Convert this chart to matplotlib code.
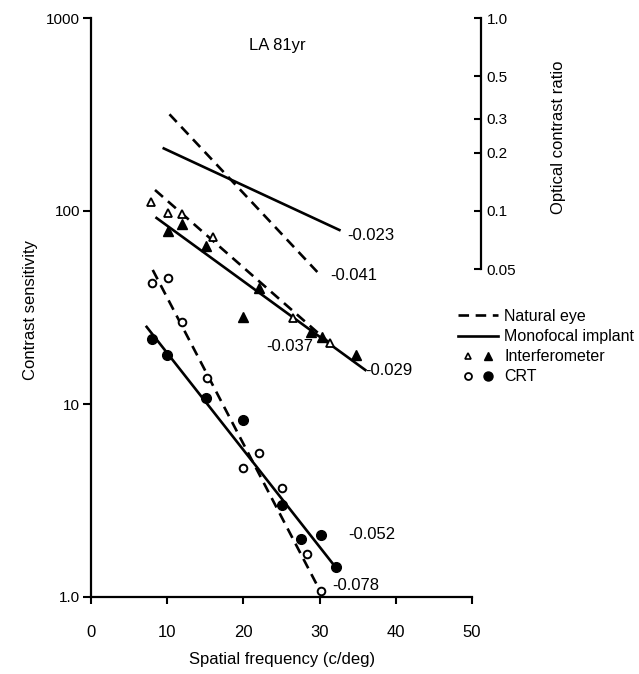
import matplotlib.pyplot as plt
from matplotlib.lines import Line2D
from matplotlib.legend_handler import HandlerTuple
from matplotlib.ticker import NullLocator

plt.rcParams['font.family'] = ['Liberation Sans', 'DejaVu Sans']

# interferometer gratings, natural eye (open) and monofocal implant (filled)
int_nat_x = [7.9, 10.1, 11.95, 16.0, 26.5, 31.3]
int_nat_y = [112, 98, 96, 73, 27.8, 20.6]
int_mono_x = [10.1, 11.95, 15.1, 20.0, 22.1, 28.9, 30.3, 34.8]
int_mono_y = [78.8, 86, 65.9, 28.3, 39.7, 23.7, 22.3, 17.9]

# CRT gratings
crt_nat_x = [8.0, 10.1, 12.0, 15.2, 19.9, 22.1, 25.0, 28.4, 30.2]
crt_nat_y = [42.5, 44.8, 26.7, 13.6, 4.66, 5.57, 3.67, 1.67, 1.07]
crt_mono_x = [7.95, 9.95, 15.05, 20.0, 25.0, 27.6, 30.2, 32.2]
crt_mono_y = [21.7, 17.9, 10.7, 8.26, 3.0, 2.0, 2.1, 1.43]

# fitted lines: end points in (c/deg, sensitivity)
fit_x = [[10.3, 29.7], [9.55, 32.6], [8.4, 31.3], [8.6, 36.0], [8.1, 30.2], [7.3, 32.2]]
fit_y = [[317, 48.3], [211, 79.7], [128.5, 20.7], [92, 15.0], [49.5, 1.05], [25.1, 1.41]]
fit_natural = [True, False, True, False, True, False]
slopes = ["-0.041", "-0.023", "-0.037", "-0.029", "-0.078", "-0.052"]
slope_pos = [(31.4, 46.6), (33.6, 75.1), (23.0, 19.8), (36.0, 15.0), (31.6, 1.15), (33.8, 2.1)]

ratio_ticks = [0.05, 0.1, 0.2, 0.3, 0.5, 1.0]

fig = plt.figure(figsize=(6.39, 6.74), dpi=100)
ax = fig.add_axes([91 / 639, 1 - 597 / 674, 381 / 639, 579 / 674])

dash = (4, 2.5)
lw = 1.9
for xs, ys, nat in zip(fit_x, fit_y, fit_natural):
    if nat:
        ax.plot(xs, ys, color='k', lw=lw, ls='--', dashes=dash)
    else:
        ax.plot(xs, ys, color='k', lw=lw)

ax.plot(int_nat_x, int_nat_y, ls='none', marker='^', ms=5.5, mfc='white', mec='k', mew=1.3)
ax.plot(int_mono_x, int_mono_y, ls='none', marker='^', ms=7, mfc='k', mec='k')
ax.plot(crt_nat_x, crt_nat_y, ls='none', marker='o', ms=5.5, mfc='white', mec='k', mew=1.4)
ax.plot(crt_mono_x, crt_mono_y, ls='none', marker='o', ms=7, mfc='k', mec='k')

for s, (tx, ty) in zip(slopes, slope_pos):
    ax.text(tx, ty, s, fontsize=12, ha='left', va='center')

ax.text(24.5, 724, "LA 81yr", fontsize=12, ha='center', va='center')

ax.set_yscale('log')
ax.set_xlim(0, 50)
ax.set_ylim(1, 1000)
ax.set_xticks([0, 10, 20, 30, 40, 50])
ax.set_yticks([1, 10, 100, 1000])
ax.set_yticklabels(["1.0", "10", "100", "1000"])
ax.yaxis.set_minor_locator(NullLocator())
ax.tick_params(axis='x', direction='out', length=5, width=1.5, labelsize=12, pad=15)
ax.tick_params(axis='y', direction='out', length=6, width=1.5, labelsize=11, pad=2)
for side in ['top', 'right']:
    ax.spines[side].set_visible(False)
for side in ['left', 'bottom']:
    ax.spines[side].set_linewidth(1.6)

ax.set_xlabel("Spatial frequency (c/deg)", fontsize=12)
ax.xaxis.set_label_coords(0.501, -0.095)
ax.set_ylabel("Contrast sensitivity", fontsize=12)
ax.yaxis.set_label_coords(-0.139, 0.496)

# optical contrast ratio axis (1000 sensitivity = ratio 1.0)
ax2 = ax.twinx()
ax2.set_yscale('log')
ax2.set_ylim(0.001, 1.0)
ax2.set_yticks(ratio_ticks)
ax2.set_yticklabels(["0.05", "0.1", "0.2", "0.3", "0.5", "1.0"])
ax2.yaxis.set_minor_locator(NullLocator())
for side in ['top', 'left', 'bottom']:
    ax2.spines[side].set_visible(False)
ax2.spines['right'].set_position(('axes', (481 - 91) / 381))
ax2.spines['right'].set_bounds(0.05, 1.0)
ax2.spines['right'].set_linewidth(1.6)
ax2.tick_params(axis='y', direction='in', length=5, width=1.5, labelsize=11, pad=4)
fig.text(558 / 639, 1 - 137 / 674, "Optical contrast ratio", rotation=90,
         fontsize=12, ha='center', va='center')

h_nat = Line2D([], [], color='k', lw=lw, ls='--', dashes=dash)
h_mono = Line2D([], [], color='k', lw=lw)
h_tri = (Line2D([], [], ls='none', marker='^', ms=4.5, mfc='white', mec='k', mew=1.2),
         Line2D([], [], ls='none', marker='^', ms=5.5, mfc='k', mec='k'))
h_circ = (Line2D([], [], ls='none', marker='o', ms=5, mfc='white', mec='k', mew=1.3),
          Line2D([], [], ls='none', marker='o', ms=6.5, mfc='k', mec='k'))
ax.legend([h_nat, h_mono, h_tri, h_circ],
          ["Natural eye", "Monofocal implant", "Interferometer", "CRT"],
          handler_map={tuple: HandlerTuple(ndivide=None, pad=0.0)},
          loc='upper left', bbox_to_anchor=(458 / 639, 1 - 309 / 674),
          bbox_transform=fig.transFigure, frameon=False, fontsize=11.5,
          borderpad=0, borderaxespad=0, handlelength=2.5, handletextpad=0.4,
          labelspacing=0.32, numpoints=1)

fig.savefig("out.png", dpi=100)
